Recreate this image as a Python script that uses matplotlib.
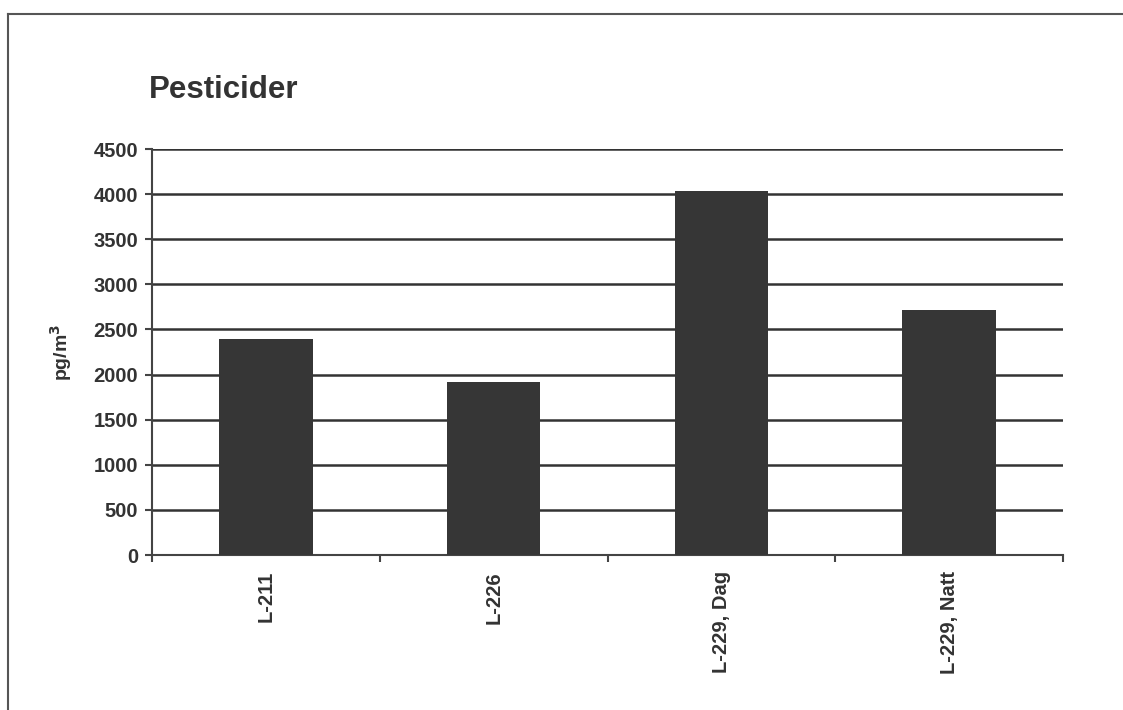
import matplotlib.pyplot as plt
from matplotlib.lines import Line2D

# data
kategorier = ['L-211', 'L-226', 'L-229, Dag', 'L-229, Natt']
varden = [2390, 1920, 4030, 2720]
yticks = [0, 500, 1000, 1500, 2000, 2500, 3000, 3500, 4000, 4500]

plt.rcParams['font.family'] = ['Liberation Sans', 'DejaVu Sans']
plt.rcParams['font.weight'] = 'bold'

fig = plt.figure(figsize=(11.23, 7.10), dpi=100)
ax = fig.add_axes([0.1354, 0.2183, 0.8112, 0.5718])

x = range(len(kategorier))
ax.bar(x, varden, width=0.41, color='#363636', zorder=3)

ax.set_ylim(0, 4500)
ax.set_xlim(-0.5, len(kategorier) - 0.5)
ax.set_yticks(yticks)
ax.set_yticklabels([str(v) for v in yticks], fontsize=14.5, fontweight='bold', color='#333333')
ax.yaxis.grid(True, color='#333333', linewidth=1.8, zorder=0)

# category labels centred, ticks on the boundaries
ax.set_xticks([i + 0.5 for i in range(-1, len(kategorier))])
ax.set_xticklabels([])
ax.tick_params(axis='x', length=5, width=1.5, color='#444444')
ax.tick_params(axis='y', length=5, width=1.5, color='#444444', pad=5)
for i, lab in enumerate(kategorier):
    ax.text(i, -0.04, lab, transform=ax.get_xaxis_transform(), rotation=90,
            ha='center', va='top', fontsize=14.5, fontweight='bold', color='#333333')

for s in ['top', 'right']:
    ax.spines[s].set_visible(False)
ax.spines['left'].set_color('#444444')
ax.spines['left'].set_linewidth(1.5)
ax.spines['bottom'].set_color('#444444')
ax.spines['bottom'].set_linewidth(1.5)

ax.set_ylabel('pg/m$^3$', fontsize=14, fontweight='bold', color='#333333', labelpad=14)

fig.text(149 / 1123, 1 - 90 / 710, 'Pesticider', fontsize=22.5, fontweight='bold',
         color='#333333', ha='left', va='center')

# frame lines (top and left)
fig.add_artist(Line2D([8 / 1123, 1], [1 - 14 / 710, 1 - 14 / 710], color='#555555', linewidth=1.5))
fig.add_artist(Line2D([8 / 1123, 8 / 1123], [0, 1 - 14 / 710], color='#555555', linewidth=1.5))

fig.savefig('out.png', dpi=100)
